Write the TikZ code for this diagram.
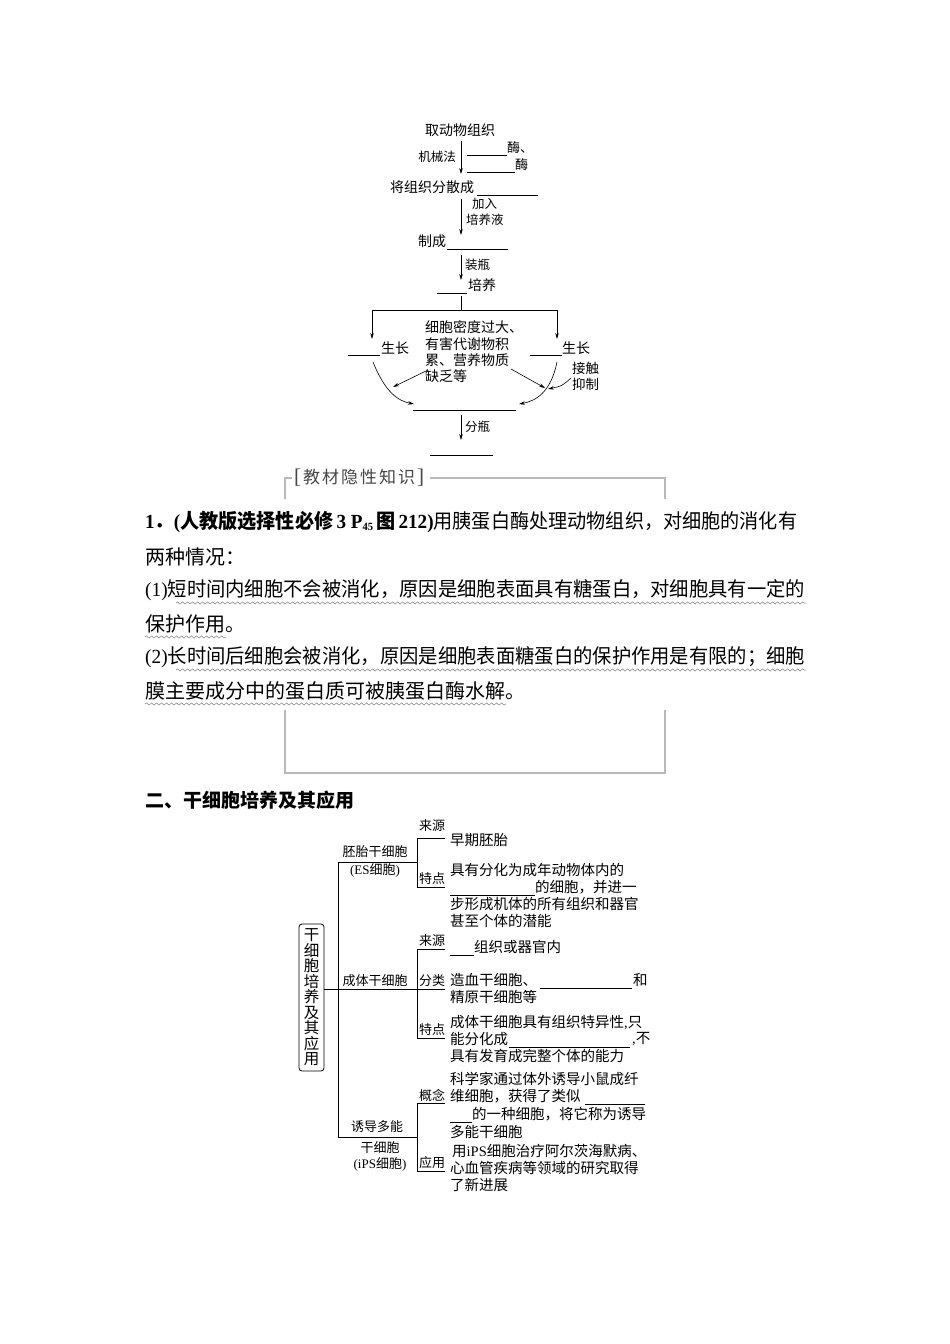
\documentclass[tikz,border=0pt]{standalone}
\usepackage{fontspec}
\usepackage{graphicx}
\setmainfont{Noto Sans CJK SC}
\newfontfamily\lat{Liberation Serif}
\usetikzlibrary{arrows.meta,decorations.pathmorphing}
\newcommand\fsz[1]{\fontsize{#1}{#1}\selectfont}
\definecolor{boxgray}{RGB}{185,185,185}
\definecolor{labgray}{RGB}{70,70,70}
\tikzset{
  txt/.style={inner sep=0pt, anchor=west, font=\fsz{14}},
  ctxt/.style={inner sep=0pt, font=\fsz{14}},
  lbl/.style={inner sep=0pt, anchor=west, font=\fsz{12.5}},
  tlbl/.style={inner sep=0pt, font=\fsz{13}},
  ttxt/.style={inner sep=0pt, anchor=west, font=\fsz{14.5}},
  para/.style={inner sep=0pt, anchor=west, font=\fsz{20}},
  arr/.style={-{Stealth[length=6pt,width=3.5pt]}, line width=0.6pt},
  ln/.style={line width=0.6pt},
  blank/.style={line width=0.6pt},
  frame/.style={draw=boxgray, line width=1.6pt},
  wave/.style={draw=gray, line width=0.5pt, decorate, decoration={snake, amplitude=1.1pt, segment length=5pt}},
  tree/.style={line width=0.8pt}
}
\begin{document}
\begin{tikzpicture}[x=1pt,y=-1pt]
\useasboundingbox (0,0) rectangle (950,1344);
\fill[white] (0,0) rectangle (950,1344);

% ---------- top flowchart ----------
\node[ctxt] (t1) at (460,130) {取动物组织};
\coordinate (a1s) at (461,141); \coordinate (a1e) at (461,174);
\draw[arr] (a1s) -- (a1e);
\node[lbl, anchor=east] (l1) at (456,157) {机械法};
\coordinate (b1a) at (467,155); \coordinate (b1b) at (507,155);
\draw[blank] (b1a) -- (b1b);
\node[txt, font=\fsz{13}] (e1) at (507,148) {酶、};
\coordinate (b2a) at (467,172); \coordinate (b2b) at (515,172);
\draw[blank] (b2a) -- (b2b);
\node[txt, font=\fsz{13}] (e2) at (515,165) {酶};

\node[txt] (t2) at (390,187) {将组织分散成};
\coordinate (b3a) at (477,195); \coordinate (b3b) at (538,195);
\draw[blank] (b3a) -- (b3b);
\coordinate (a2s) at (461,199); \coordinate (a2e) at (461,235);
\draw[arr] (a2s) -- (a2e);
\node[lbl] (l2) at (472,204) {加入};
\node[lbl] (l3) at (466,220) {培养液};

\node[txt] (t3) at (418,241) {制成};
\coordinate (b4a) at (447,249); \coordinate (b4b) at (508,249);
\draw[blank] (b4a) -- (b4b);
\coordinate (a3s) at (461,255); \coordinate (a3e) at (461,280);
\draw[arr] (a3s) -- (a3e);
\node[lbl] (l4) at (465,265) {装瓶};

\coordinate (b5a) at (437,293); \coordinate (b5b) at (467,293);
\draw[blank] (b5a) -- (b5b);
\node[txt] (t4) at (468,285) {培养};

\coordinate (s0) at (461,296); \coordinate (s1) at (461,310);
\coordinate (sl) at (372,310); \coordinate (sr) at (557,310);
\coordinate (sle) at (372,339); \coordinate (sre) at (557,339);
\draw[ln] (s0) -- (s1) (sl) -- (sr);
\draw[arr] (sl) -- (sle);
\draw[arr] (sr) -- (sre);

\coordinate (b6a) at (348,355); \coordinate (b6b) at (380,355);
\draw[blank] (b6a) -- (b6b);
\node[txt] (gl) at (381,348) {生长};
\coordinate (b7a) at (530,355); \coordinate (b7b) at (562,355);
\draw[blank] (b7a) -- (b7b);
\node[txt] (gr) at (562,348) {生长};

\node[txt] (c1) at (425,327) {细胞密度过大、};
\node[txt] (c2) at (425,344) {有害代谢物积};
\node[txt] (c3) at (425,360) {累、营养物质};
\node[txt] (c4) at (425,376) {缺乏等};

\coordinate (cl0) at (373,362); \coordinate (cl1) at (414,404);
\draw[arr] (cl0) .. controls (385,392) and (398,401) .. (cl1);
\coordinate (dl0) at (428,370); \coordinate (dl1) at (393,387);
\draw[arr] (dl0) -- (dl1);
\coordinate (dr0) at (511,369); \coordinate (dr1) at (545,388);
\draw[arr] (dr0) -- (dr1);
\coordinate (cr0) at (557,362); \coordinate (cr1) at (519,404);
\draw[arr] (cr0) .. controls (551,392) and (536,401) .. (cr1);
\node[txt, font=\fsz{13.5}] (k1) at (572,368) {接触};
\node[txt, font=\fsz{13.5}] (k2) at (572,384) {抑制};
\coordinate (kr0) at (571,378); \coordinate (kr1) at (548,389);
\draw[arr] (kr0) .. controls (562,386) .. (kr1);

\coordinate (b8a) at (413,410); \coordinate (b8b) at (516,410);
\draw[blank] (b8a) -- (b8b);
\coordinate (a4s) at (461,415); \coordinate (a4e) at (461,440);
\draw[arr] (a4s) -- (a4e);
\node[lbl] (l5) at (465,427) {分瓶};
\coordinate (b9a) at (430,455); \coordinate (b9b) at (493,455);
\draw[blank] (b9a) -- (b9b);

% ---------- knowledge box ----------
\coordinate (f1) at (285,499); \coordinate (f2) at (285,478); \coordinate (f3) at (292,478);
\coordinate (f4) at (430,478); \coordinate (f5) at (665,478); \coordinate (f6) at (665,499);
\draw[frame] (f1) -- (f2) -- (f3);
\draw[frame] (f4) -- (f5) -- (f6);
\node[txt, font=\fsz{17}, text=labgray] (kt) at (294,478) {{\fsz{21}\lat[}\hspace{2pt}教\hspace{2pt}材\hspace{2pt}隐\hspace{2pt}性\hspace{2pt}知\hspace{2pt}识\hspace{2pt}{\fsz{21}\lat]}};
\coordinate (g1) at (285,710); \coordinate (g2) at (285,773); \coordinate (g3) at (665,773); \coordinate (g4) at (665,710);
\draw[frame] (g1) -- (g2) -- (g3) -- (g4);

\node[para] (p1) at (145,522) {\resizebox{652pt}{\height}{{\bfseries{\lat 1}．{\lat (}人教版选择性必修\,{\lat 3 P}{\lat\fsz{11}\raisebox{-2pt}{45}}\,图\,{\lat 212)}}用胰蛋白酶处理动物组织，对细胞的消化有}};
\node[para] (p2) at (145,557) {两种情况：};
\node[para] (p3) at (145,590) {\resizebox{660pt}{\height}{{\lat (1)}短时间内细胞不会被消化，原因是细胞表面具有糖蛋白，对细胞具有一定的}};
\node[para] (p4) at (145,624) {保护作用。};
\node[para] (p5) at (145,657) {\resizebox{660pt}{\height}{{\lat (2)}长时间后细胞会被消化，原因是细胞表面糖蛋白的保护作用是有限的；细胞}};
\node[para] (p6) at (145,691) {膜主要成分中的蛋白质可被胰蛋白酶水解。};

\coordinate (w1a) at (176,603); \coordinate (w1b) at (806,603);
\draw[wave] (w1a) -- (w1b);
\coordinate (w2a) at (145,637); \coordinate (w2b) at (226,637);
\draw[wave] (w2a) -- (w2b);
\coordinate (w3a) at (176,670); \coordinate (w3b) at (806,670);
\draw[wave] (w3a) -- (w3b);
\coordinate (w4a) at (145,704); \coordinate (w4b) at (506,704);
\draw[wave] (w4a) -- (w4b);

\node[para, font=\fsz{19}\bfseries] (h2) at (145,800) {二、干细胞培养及其应用};

% ---------- tree ----------
\node[draw, tree, rounded corners=3pt, inner sep=0pt, minimum width=25pt, minimum height=147pt, align=center, font=\fsz{15.5}] (root) at (311.5,997.5)
  {\setlength{\baselineskip}{15.5pt}干\\细\\胞\\培\\养\\及\\其\\应\\用};

\coordinate (T1) at (338,862); \coordinate (T2) at (338,1137);
\draw[tree] (T1) -- (T2);
\coordinate (R0) at (root.east |- 0,989); \coordinate (R1) at (445,989);
\draw[tree] (R0) -- (R1);

% branch 1
\coordinate (B1) at (417,862);
\draw[tree] (T1) -- (B1);
\coordinate (B1t) at (417,838); \coordinate (B1b) at (417,887);
\coordinate (B1te) at (445,838); \coordinate (B1be) at (445,887);
\draw[tree] (B1te) -- (B1t) -- (B1b) -- (B1be);
\node[tlbl] (es1) at (375,852) {胚胎干细胞};
\node[tlbl] (es2) at (375,870) {{\lat (ES}细胞{\lat )}};
\node[tlbl] (ly1) at (432,826) {来源};
\node[tlbl] (td1) at (432,879) {特点};
\node[ttxt] (x1) at (450,840) {早期胚胎};
\node[ttxt] (x2) at (450,870) {具有分化为成年动物体内的};
\coordinate (bb1a) at (450,895); \coordinate (bb1b) at (535,895);
\draw[blank] (bb1a) -- (bb1b);
\node[ttxt] (x3) at (535,887) {的细胞，并进一};
\node[ttxt] (x4) at (450,904) {步形成机体的所有组织和器官};
\node[ttxt] (x5) at (450,921) {甚至个体的潜能};

% branch 2
\node[tlbl] (ad) at (375,981) {成体干细胞};
\coordinate (B2t) at (417,949); \coordinate (B2b) at (417,1038);
\coordinate (B2te) at (445,949); \coordinate (B2be) at (445,1038);
\draw[tree] (B2te) -- (B2t) -- (B2b) -- (B2be);
\node[tlbl] (ly2) at (432,941) {来源};
\node[tlbl] (fl2) at (432,981) {分类};
\node[tlbl] (td2) at (432,1030) {特点};
\coordinate (bb2a) at (450,955); \coordinate (bb2b) at (474,955);
\draw[blank] (bb2a) -- (bb2b);
\node[ttxt] (y1) at (474,947) {组织或器官内};
\node[ttxt] (y2) at (450,980) {造血干细胞、};
\coordinate (bb3a) at (540,988); \coordinate (bb3b) at (632,988);
\draw[blank] (bb3a) -- (bb3b);
\node[ttxt] (y3) at (633,980) {和};
\node[ttxt] (y4) at (450,997) {精原干细胞等};
\node[ttxt] (y5) at (450,1022) {成体干细胞具有组织特异性{\lat ,}只};
\node[ttxt] (y6) at (450,1039) {能分化成};
\coordinate (bb4a) at (509,1047); \coordinate (bb4b) at (630,1047);
\draw[blank] (bb4a) -- (bb4b);
\node[ttxt] (y7) at (632,1039) {{\lat ,}不};
\node[ttxt] (y8) at (450,1056) {具有发育成完整个体的能力};

% branch 3
\coordinate (B3) at (417,1137);
\draw[tree] (T2) -- (B3);
\node[tlbl] (ip1) at (377,1127) {诱导多能};
\node[tlbl] (ip2) at (380,1148) {干细胞};
\node[tlbl] (ip3) at (380,1164) {{\lat (iPS}细胞{\lat )}};
\coordinate (B3t) at (417,1103); \coordinate (B3b) at (417,1171);
\coordinate (B3te) at (445,1103); \coordinate (B3be) at (445,1171);
\draw[tree] (B3te) -- (B3t) -- (B3b) -- (B3be);
\node[tlbl] (gn) at (432,1095) {概念};
\node[tlbl] (yy) at (432,1163) {应用};
\node[ttxt] (z1) at (450,1079) {科学家通过体外诱导小鼠成纤};
\node[ttxt] (z2) at (450,1096) {维细胞，获得了类似};
\coordinate (bb5a) at (585,1104); \coordinate (bb5b) at (645,1104);
\draw[blank] (bb5a) -- (bb5b);
\coordinate (bb6a) at (450,1122); \coordinate (bb6b) at (472,1122);
\draw[blank] (bb6a) -- (bb6b);
\node[ttxt] (z3) at (472,1114) {的一种细胞，将它称为诱导};
\node[ttxt] (z4) at (450,1132) {多能干细胞};
\node[ttxt] (z5) at (452,1151) {用{\lat iPS}细胞治疗阿尔茨海默病、};
\node[ttxt] (z6) at (450,1168) {心血管疾病等领域的研究取得};
\node[ttxt] (z7) at (450,1185) {了新进展};
\end{tikzpicture}
\end{document}
